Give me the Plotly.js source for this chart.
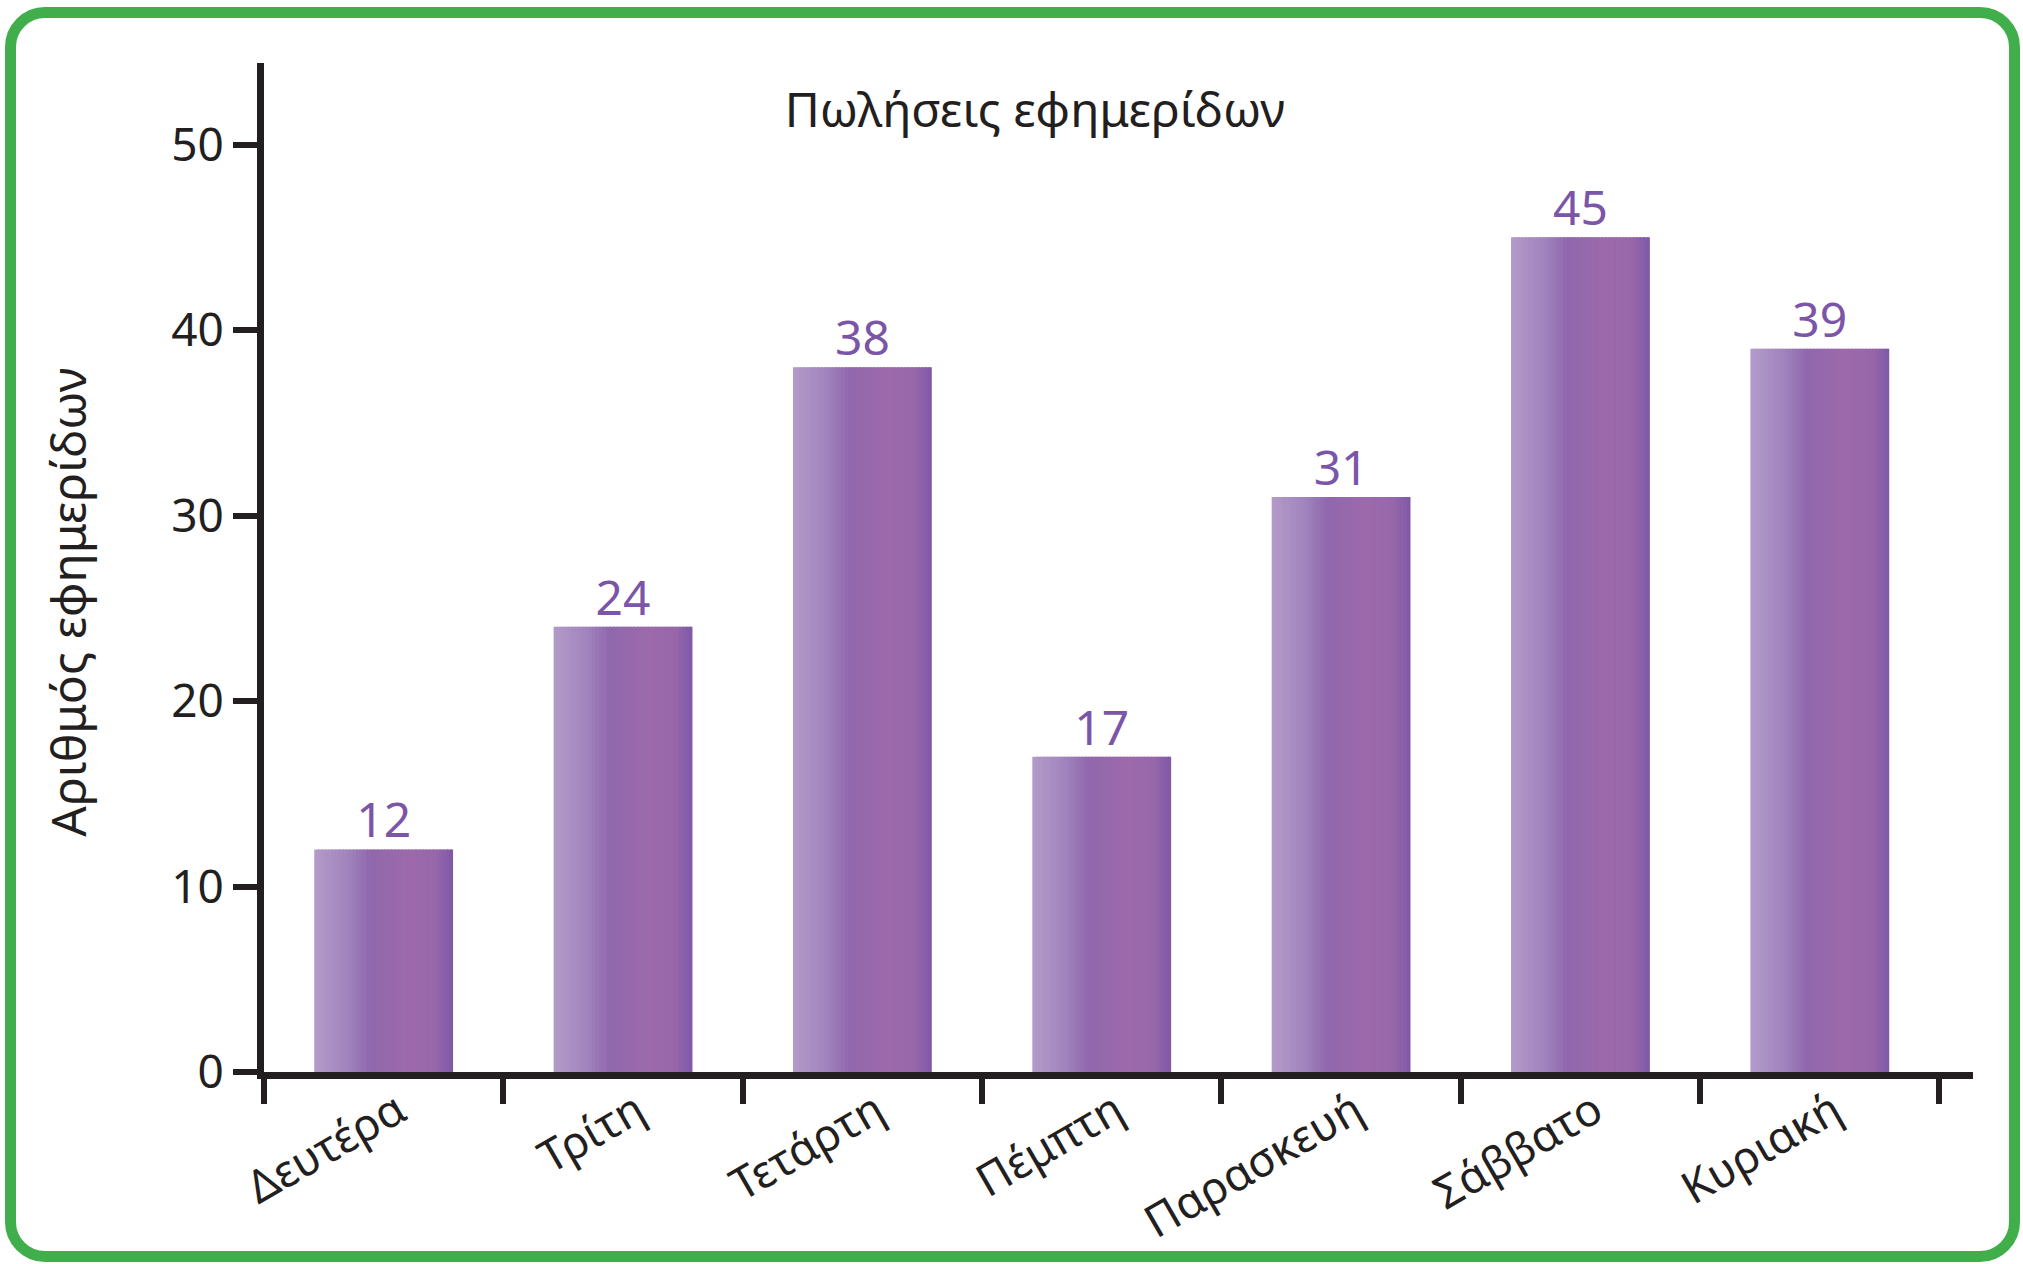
<!DOCTYPE html>
<html>
<head>
<meta charset="utf-8">
<script src="https://cdn.plot.ly/plotly-3.0.1.min.js"></script>
<style>
  html, body { margin: 0; padding: 0; background: #ffffff; }
  #wrap { position: relative; width: 2023px; height: 1264px; }
  #chart { position: absolute; left: 0; top: 0; width: 2023px; height: 1264px; }
  #frame {
    position: absolute; left: 5px; top: 7px; width: 2015px; height: 1255px;
    box-sizing: border-box; border: 11px solid #40ae4a; border-radius: 40px;
    pointer-events: none;
  }
</style>
</head>
<body>
<div id="wrap">
  <div id="chart"></div>
  <div id="frame"></div>
</div>
<script>
// ---- data ----
const days = ["Δευτέρα", "Τρίτη", "Τετάρτη", "Πέμπτη", "Παρασκευή", "Σάββατο", "Κυριακή"];
const sales = [12, 24, 38, 17, 31, 45, 39];
const chartTitle = "Πωλήσεις εφημερίδων";
const yTitle = "Αριθμός εφημερίδων";

// ---- style ----
const FONT = "'Comic Sans MS', 'Noto Sans', 'DejaVu Sans', sans-serif";
const INK = "#231f20";
const LABEL = "#7b55a8";
const barWidth = 0.58;
const gradStops = [
  [0.00, [179, 155, 201]],
  [0.25, [160, 130, 188]],
  [0.40, [144, 104, 173]],
  [0.70, [156, 106, 171]],
  [0.88, [151, 103, 170]],
  [1.00, [125, 88, 167]]
];
function gradColor(t) {
  for (let i = 1; i < gradStops.length; i++) {
    if (t <= gradStops[i][0]) {
      const a = gradStops[i - 1], b = gradStops[i];
      const f = (t - a[0]) / (b[0] - a[0]);
      const c = a[1].map((v, k) => Math.round(v + (b[1][k] - v) * f));
      return `rgb(${c[0]},${c[1]},${c[2]})`;
    }
  }
  const l = gradStops[gradStops.length - 1][1];
  return `rgb(${l[0]},${l[1]},${l[2]})`;
}

// Gradient bars drawn as narrow overlaid bar strips
const N = 40;
const traces = [];
const sw = barWidth / N;
for (let i = 0; i < N; i++) {
  const w = i < N - 1 ? sw * 1.6 : sw;
  traces.push({
    type: "bar",
    x: days,
    y: sales,
    width: w,
    offset: -barWidth / 2 + i * sw,
    marker: { color: gradColor((i + 0.5) / N), line: { width: 0 } },
    hoverinfo: "skip",
    showlegend: false
  });
}
// value labels
traces.push({
  type: "scatter",
  mode: "text",
  x: days,
  y: sales,
  text: sales.map(String),
  textposition: "top center",
  textfont: { family: FONT, size: 48, color: LABEL },
  hoverinfo: "skip",
  showlegend: false,
  cliponaxis: false
});

const layout = {
  width: 2023,
  height: 1264,
  paper_bgcolor: "#ffffff",
  plot_bgcolor: "#ffffff",
  margin: { l: 264, r: 50, t: 63, b: 192 },
  barmode: "overlay",
  showlegend: false,
  font: { family: FONT, color: INK },
  title: {
    text: chartTitle,
    font: { family: FONT, size: 48, color: INK },
    xref: "container", x: 0.5116, xanchor: "center",
    yref: "container", y: 0.913, yanchor: "middle"
  },
  xaxis: {
    type: "category",
    range: [-0.5, 6.64],
    showline: true, linewidth: 7, linecolor: INK,
    ticks: "outside", tickson: "boundaries", ticklen: 25, tickwidth: 6, tickcolor: INK,
    tickangle: -30,
    ticklabelstandoff: -12, ticklabelshift: 14,
    tickfont: { family: FONT, size: 45, color: INK },
    showgrid: false, zeroline: false, fixedrange: true
  },
  yaxis: {
    range: [0, 54.4],
    dtick: 10, tick0: 0,
    showline: true, linewidth: 7, linecolor: INK,
    ticks: "outside", ticklen: 24, tickwidth: 6, tickcolor: INK,
    tickfont: { family: FONT, size: 46, color: INK },
    showgrid: false, zeroline: false, fixedrange: true
  },
  annotations: [{
    text: yTitle,
    xref: "paper", yref: "paper",
    x: -0.1147, y: 0.466,
    xanchor: "center", yanchor: "middle",
    textangle: -90, showarrow: false,
    font: { family: FONT, size: 48, color: INK }
  }]
};

Plotly.newPlot("chart", traces, layout, { displayModeBar: false, staticPlot: true });
</script>
</body>
</html>
